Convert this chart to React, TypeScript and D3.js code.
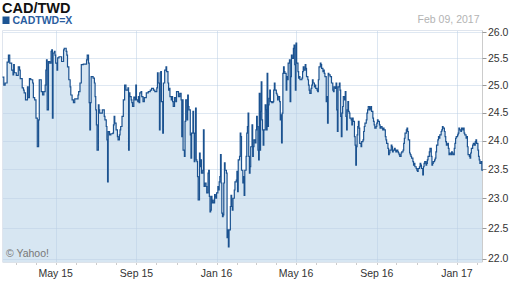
import React from "react";
import * as d3 from "d3";

const START = "2015-02-09";
const END = "2017-02-09";
const title = "CAD/TWD";
const symbol = "CADTWD=X";
const dateLabel = "Feb 09, 2017";
const credit = "© Yahoo!";
const yTicks = [22, 22.5, 23, 23.5, 24, 24.5, 25, 25.5, 26];

// days since START
const dayOffsets = [
  0, 2, 4, 7, 9, 11, 14, 16, 17, 18, 21, 24, 26, 27, 30, 32, 33, 35, 38, 39,
  41, 43, 46, 47, 49, 51, 53, 55, 56, 59, 61, 63, 65, 66, 67, 68, 70, 72, 74, 75,
  76, 77, 79, 80, 81, 83, 84, 86, 90, 93, 94, 97, 98, 99, 101, 103, 104, 106, 108, 110,
  115, 116, 118, 120, 123, 127, 128, 129, 131, 132, 133, 134, 135, 138, 140, 141, 142, 143, 144, 146,
  147, 148, 152, 155, 156, 158, 159, 160, 161, 163, 165, 168, 169, 170, 171, 173, 175, 176, 178, 179,
  180, 182, 184, 186, 188, 191, 192, 193, 194, 196, 197, 198, 200, 202, 203, 204, 206, 207, 208, 209,
  211, 212, 214, 216, 219, 222, 225, 227, 230, 232, 235, 236, 237, 239, 240, 241, 242, 244, 245, 247,
  249, 250, 252, 253, 254, 255, 257, 258, 259, 260, 262, 264, 265, 268, 270,
  272, 273, 274, 275, 277, 278, 279, 281, 282, 283, 284, 286, 287, 288, 290, 291, 292, 293, 294, 295,
  296, 297, 298, 300, 301, 302, 303, 305, 306, 307, 308, 310, 311, 313, 314, 315, 316, 317, 318, 319,
  320, 321, 323, 324, 325, 326, 328, 329, 330, 331, 332, 333, 334, 335, 336, 337, 338, 339, 341, 342,
  343, 344, 345, 347, 348, 349, 350, 351, 353, 354, 356, 357, 358, 359, 361, 362, 363, 364, 366, 367,
  368, 369, 371, 372, 373, 374, 375, 376, 377, 378, 380, 381, 382, 383, 385, 386, 387, 388, 389, 390,
  391, 392, 393, 394, 395, 396, 397, 398, 400, 401, 402, 403, 404, 405, 406, 407, 408, 410, 412, 413,
  414, 415, 417, 418, 419, 420, 422, 423, 424, 425, 426, 427, 428, 429, 430, 432, 433, 434, 435, 437,
  438, 439, 440, 441, 443, 444, 445, 446, 447, 448, 450, 451, 452, 453, 455, 456, 457, 458, 459, 461,
  462, 463, 465, 466, 467, 468, 470, 471, 472, 473, 475, 476, 477, 479, 480, 481, 482, 484, 485, 486,
  488, 489, 490, 491, 493, 494, 495, 496, 497, 499, 501, 503, 504, 505, 507, 508, 509, 510, 511, 513,
  514,
  515, 516, 517, 518, 519, 521, 522, 523, 524, 525, 526, 527, 528, 529, 531, 532, 533, 534, 536, 537,
  538, 539, 540, 541, 542, 543, 544, 546, 547, 549, 550, 551, 552, 554, 555, 556, 557, 559, 560, 561,
  562, 564, 565, 566, 567, 569, 570, 571, 572, 574, 575, 576, 578, 579, 580, 581, 583, 584, 585, 587,
  588, 589, 590, 592, 593, 594, 595, 597, 598, 599, 600, 602, 603, 604, 605, 607, 608, 610, 611, 612,
  613, 615, 616, 617, 618, 620, 621, 622, 623, 625, 626, 627, 628, 630, 631, 632, 633, 635, 636, 637,
  638, 640, 641, 642, 643, 645, 646, 647, 648, 650, 651, 653, 654, 655, 656, 658, 659, 660, 661, 663,
  664, 665, 666, 668, 669, 670, 671, 673, 674, 675, 676, 678, 679, 680, 681, 683, 684, 685, 686, 688,
  689, 690, 691, 693, 694, 695, 696, 698, 699, 701, 702, 703, 704, 706, 707, 708, 709, 711, 712, 713,
  714, 716, 717, 719, 720, 721, 722, 724, 725, 726, 727, 729, 730, 731,
];

const rates = [
  25.15, 25.0, 25.04, 25.43, 25.56, 25.41, 25.28, 25.19, 25.38, 25.23, 25.18, 25.34, 25.28, 25.12, 24.95, 24.91, 24.86, 24.73, 24.97, 24.77,
  25.12, 25.1, 25.04, 24.77, 24.73, 24.4, 23.89, 24.37, 25.1, 24.88, 24.82, 24.88, 25.0, 25.28, 25.47, 24.55, 25.44, 25.41, 25.63, 25.66,
  24.4, 25.6, 25.63, 25.56, 25.41, 25.28, 25.51, 25.53, 25.44, 25.66, 25.69, 25.63, 25.56, 25.34, 25.1, 24.97, 24.82, 24.73, 24.68, 24.75,
  24.82, 24.88, 25.04, 25.38, 25.39, 25.39, 25.47, 25.56, 25.41, 24.68, 24.19, 24.68, 25.16, 25.13, 25.04, 24.79, 24.55, 24.28, 23.83, 24.64,
  24.55, 24.49, 24.55, 24.43, 24.37, 24.25, 24.01, 23.28, 24.16, 24.1, 24.12, 24.13, 24.28, 24.43, 24.31, 24.19, 24.07, 24.01, 24.1, 24.19,
  24.25, 24.43, 24.73, 25.0, 24.91, 24.95, 23.83, 24.86, 24.79, 24.73, 24.68, 24.61, 24.78, 24.73, 25.0, 24.73, 24.7, 24.79, 24.68, 24.86,
  24.88, 24.79, 24.7, 24.77, 24.86, 24.88, 24.91, 24.94, 24.91, 24.88, 24.95, 25.23, 25.04, 24.19, 25.23, 25.25, 24.7, 24.13, 25.04, 25.28,
  25.34, 25.25, 25.04, 24.91, 24.94, 24.79, 24.73, 24.79, 24.7, 24.61, 24.77, 24.7, 24.88, 24.79, 24.85,
  24.73, 24.07, 24.73, 23.83, 23.72, 24.34, 24.73, 24.37, 24.82, 24.61, 24.55, 24.1, 23.69, 24.13, 24.52, 24.13, 23.63, 24.13, 24.58, 23.66,
  23.63, 23.37, 22.97, 23.78, 23.54, 23.66, 23.43, 23.48, 24.19, 23.2, 23.26, 23.2, 23.09, 23.43, 23.48, 23.03, 22.77, 22.8, 23.03, 22.92,
  22.97, 22.92, 23.06, 23.03, 23.0, 23.09, 23.2, 23.14, 23.28, 23.37, 23.75, 23.26, 22.75, 22.69, 22.72, 23.26, 23.61, 23.48, 23.43, 22.34,
  22.47, 22.19, 22.47, 22.86, 23.05, 22.86, 22.8, 23.0, 23.14, 23.28, 23.31, 23.46, 23.11, 23.66, 23.72, 24.13, 24.07, 23.48, 23.26, 23.37,
  23.05, 23.48, 23.72, 24.13, 24.25, 24.49, 23.72, 23.43, 23.54, 23.89, 24.28, 23.72, 23.89, 24.01, 23.96, 24.19, 24.43, 24.25, 23.83, 23.66,
  24.85, 23.83, 24.52, 25.06, 24.37, 24.19, 23.92, 24.19, 24.64, 24.55, 24.19, 25.22, 24.25, 24.64, 24.76, 24.91, 24.7, 24.68, 24.7, 24.91,
  25.04, 24.91, 24.85, 24.82, 24.73, 24.79, 24.7, 24.37, 24.46, 23.96, 24.49, 25.22, 25.34, 25.25, 25.22, 24.91, 25.16, 25.1, 25.41, 25.47,
  24.7, 25.16, 25.56, 25.5, 25.69, 25.75, 25.38, 24.91, 25.79, 25.41, 25.25, 25.13, 25.16, 25.1, 25.1, 25.13, 25.25, 25.34, 25.28, 25.38,
  25.31, 25.16, 25.1, 25.0, 24.91, 24.85, 24.94, 25.0, 25.1, 25.04, 24.97, 25.0, 24.94, 24.91, 24.88, 25.1, 25.34, 25.41, 25.38, 25.31,
  25.25, 25.28, 25.22, 25.16, 24.7, 24.79, 24.31, 25.22, 25.19, 25.16, 25.04, 24.91, 24.88, 24.97, 24.94, 25.04, 24.55, 24.16, 24.97, 25.04,
  24.91,
  24.43, 24.07, 24.49, 24.61, 24.79, 24.73, 24.88, 24.43, 24.19, 24.55, 24.7, 24.52, 24.49, 24.4, 24.37, 24.28, 24.4, 24.34, 24.07, 23.92,
  23.57, 23.89, 24.1, 24.25, 24.34, 24.22, 23.95, 23.89, 23.98, 24.01, 24.16, 24.25, 24.31, 24.37, 24.49, 24.55, 24.61, 24.55, 24.58, 24.61,
  24.52, 24.4, 24.34, 24.28, 24.22, 24.25, 24.31, 24.37, 24.34, 24.28, 24.22, 24.25, 24.22, 24.19, 24.22, 24.19, 24.07, 24.01, 23.95, 23.86,
  23.75, 23.78, 23.83, 23.92, 23.89, 23.8, 23.83, 23.86, 23.83, 23.8, 23.83, 23.8, 23.78, 23.75, 23.72, 23.78, 23.8, 23.83, 23.95, 24.04,
  24.13, 24.19, 24.22, 24.16, 24.01, 23.78, 23.75, 23.72, 23.69, 23.63, 23.57, 23.6, 23.54, 23.51, 23.48, 23.46, 23.51, 23.54, 23.6, 23.57,
  23.51, 23.4, 23.54, 23.6, 23.63, 23.57, 23.6, 23.66, 23.72, 23.8, 23.86, 23.72, 23.57, 23.6, 23.63, 23.66, 23.69, 23.8, 23.92, 24.01,
  24.07, 24.04, 24.1, 24.16, 24.19, 24.25, 24.22, 24.16, 24.07, 23.98, 23.92, 23.95, 23.86, 23.75, 23.78, 23.75, 23.8, 23.78, 23.75, 23.86,
  23.95, 24.04, 24.07, 24.1, 24.13, 24.22, 24.19, 24.16, 24.22, 24.19, 24.22, 24.13, 24.1, 24.04, 24.07, 23.89, 23.75, 23.72, 23.69, 23.78,
  23.86, 23.92, 23.95, 23.92, 23.98, 24.01, 23.95, 23.83, 23.72, 23.66, 23.6, 23.63, 23.48, 23.5,
];

export default function App() {
  const W = 512;
  const H = 288;
  const left = 2.5;
  const right = 482.5;
  const top = 30.5;
  const bottom = 262;
  const parse = d3.timeParse("%Y-%m-%d");
  const start = parse(START) as Date;
  const end = parse(END) as Date;

  const x = d3.scaleTime().domain([start, end]).range([left, right]);
  const y = d3.scaleLog().domain([22, 26]).range([258.5, 32]);

  const n = Math.min(dayOffsets.length, rates.length);
  const data = d3.range(n).map((i) => ({
    date: d3.timeDay.offset(start, dayOffsets[i]),
    v: rates[i],
  }));

  const line = d3
    .line<{ date: Date; v: number }>()
    .x((d) => x(d.date))
    .y((d) => y(d.v))
    .curve(d3.curveStepAfter);
  const area = d3
    .area<{ date: Date; v: number }>()
    .x((d) => x(d.date))
    .y0(bottom)
    .y1((d) => y(d.v))
    .curve(d3.curveStepAfter);

  const majors = x.ticks(d3.timeMonth.every(4) as any);
  const minors = d3.timeMonth.range(start, end);
  const fmt = d3.timeFormat("%b %y");
  const font = "Arial, 'Liberation Sans', Helvetica, sans-serif";

  return (
    <div style={{ position: "absolute", left: 0, top: 0 }}>
      <svg width={W} height={H} style={{ display: "block" }} fontFamily={font}>
        <rect x={0} y={0} width={W} height={H} fill="#ffffff" />
        <text x={2} y={12.5} fontSize={14.5} fontWeight="bold" fill="#111">
          {title}
        </text>
        <rect x={2.5} y={16.5} width={7} height={7.5} fill="#1d5594" />
        <text x={12.5} y={24} fontSize={10.5} fontWeight="bold" fill="#2a5d9f">
          {symbol}
        </text>
        <text x={479.5} y={23.3} fontSize={10.5} fill="#b3b3b3" textAnchor="end">
          {dateLabel}
        </text>

        <path d={area(data) || ""} fill="#d7e6f2" />

        {/* horizontal gridlines */}
        {yTicks.map((t) => (
          <line
            key={"hg" + t}
            x1={left}
            x2={right}
            y1={Math.round(y(t)) + 0.5}
            y2={Math.round(y(t)) + 0.5}
            stroke="#b9cde3"
            strokeOpacity={0.45}
          />
        ))}
        {/* vertical gridlines */}
        {majors.map((m) => (
          <line
            key={"vg" + m.getTime()}
            x1={Math.round(x(m)) + 0.5}
            x2={Math.round(x(m)) + 0.5}
            y1={top}
            y2={bottom + 3}
            stroke="#b9cde3"
            strokeOpacity={0.5}
          />
        ))}
        {minors.map((m) => (
          <line
            key={"mt" + m.getTime()}
            x1={Math.round(x(m)) + 0.5}
            x2={Math.round(x(m)) + 0.5}
            y1={bottom}
            y2={bottom + 3}
            stroke="#cccccc"
          />
        ))}
        {/* frame */}
        <line x1={left} x2={right} y1={top} y2={top} stroke="#dfe5ee" />
        <line x1={left} x2={left} y1={top} y2={bottom} stroke="#dfe5ee" />
        <line x1={left} x2={right} y1={bottom + 0.5} y2={bottom + 0.5} stroke="#dde3ea" />
        <line x1={right} x2={right} y1={top} y2={bottom} stroke="#cccccc" />

        <path d={line(data) || ""} fill="none" stroke="#1b5290" strokeWidth={1.2} />

        {/* right axis */}
        {yTicks.map((t) => (
          <g key={"yt" + t}>
            <line
              x1={right}
              x2={right + 4}
              y1={Math.round(y(t)) + 0.5}
              y2={Math.round(y(t)) + 0.5}
              stroke="#999999"
            />
            <text x={488} y={y(t)} dy="0.35em" fontSize={10.5} fill="#333">
              {t.toFixed(1)}
            </text>
          </g>
        ))}
        {/* x labels */}
        {majors.map((m) => (
          <text
            key={"xl" + m.getTime()}
            x={x(m)}
            y={277}
            fontSize={10.5}
            fill="#333"
            textAnchor="middle"
          >
            {fmt(m)}
          </text>
        ))}
        <text x={6} y={256.5} fontSize={10.5} fill="#777">
          {credit}
        </text>
      </svg>
    </div>
  );
}
